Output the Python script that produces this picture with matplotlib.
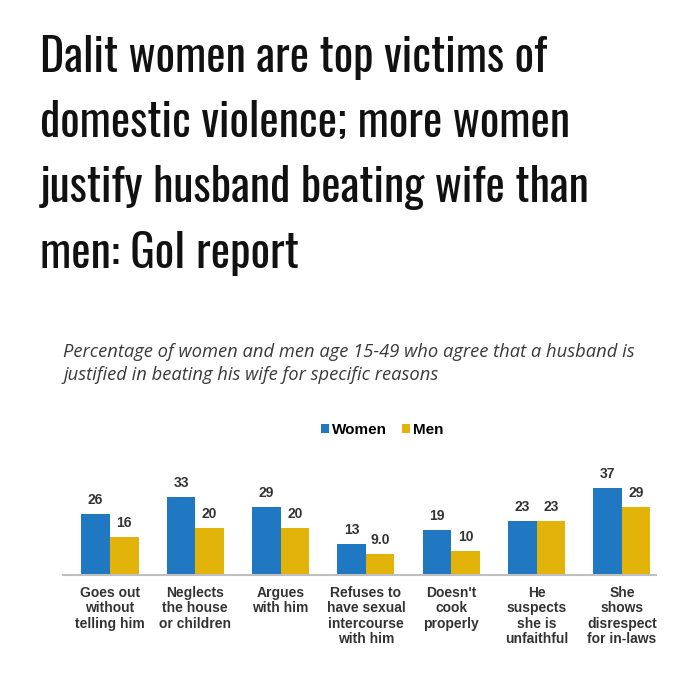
import matplotlib
matplotlib.use('Agg')
import matplotlib.pyplot as plt
import numpy as np

# data
categories = ['Goes out\nwithout\ntelling him', 'Neglects\nthe house\nor children', 'Argues\nwith him',
              'Refuses to\nhave sexual\nintercourse\nwith him', "Doesn't\ncook\nproperly",
              'He\nsuspects\nshe is\nunfaithful', 'She\nshows\ndisrespect\nfor in-laws']
women = [26, 33, 29, 13, 19, 23, 37]
men = [16, 20, 20, 9.0, 10, 23, 29]
women_labels = ['26', '33', '29', '13', '19', '23', '37']
men_labels = ['16', '20', '20', '9.0', '10', '23', '29']

title_lines = ['Dalit women are top victims of',
               'domestic violence; more women',
               'justify husband beating wife than',
               'men: GoI report']
subtitle_lines = ['Percentage of women and men age 15-49 who agree that a husband is',
                  'justified in beating his wife for specific reasons']

BLUE = '#1f78c1'
GOLD = '#e2b409'
TITLE_FONT = ['Oswald', 'Liberation Sans Narrow', 'DejaVu Sans']
SUB_FONT = ['Open Sans', 'DejaVu Sans']
BODY_FONT = ['Liberation Sans', 'DejaVu Sans']

W, H = 680, 680
fig = plt.figure(figsize=(W / 100, H / 100), dpi=100)
fig.patch.set_facecolor('white')

# title, one line at a time
title_base = [72, 137, 202, 268]
for line, y in zip(title_lines, title_base):
    fig.text(40 / W, 1 - y / H, line, fontsize=33, family=TITLE_FONT,
             color='#111111', va='baseline', ha='left')

for line, y in zip(subtitle_lines, [357, 380]):
    fig.text(63 / W, 1 - y / H, line, fontsize=13.2, style='italic', family=SUB_FONT,
             color='#3a3a3a', va='baseline', ha='left')

# chart
ax = fig.add_axes([63 / W, 1 - 575 / H, 593 / W, 94.4 / H])
x = np.arange(len(categories))
w = 0.335
bw = ax.bar(x - w / 2, women, w, color=BLUE, label='Women')
bm = ax.bar(x + w / 2, men, w, color=GOLD, label='Men')
ax.set_xlim(-0.55, 6.4)
ax.set_ylim(0, 40)

for bars, labels in [(bw, women_labels), (bm, men_labels)]:
    for rect, lab in zip(bars, labels):
        ax.annotate(lab, (rect.get_x() + rect.get_width() / 2, rect.get_height()), xytext=(0, 5),
                    textcoords='offset points', ha='center', va='bottom', fontsize=10,
                    fontweight='bold', color='#333333', family=BODY_FONT)

for s in ['top', 'right', 'left']:
    ax.spines[s].set_visible(False)
ax.spines['bottom'].set_color('#bfbfbf')
ax.spines['bottom'].set_linewidth(1.5)
ax.set_yticks([])
ax.set_xticks(x)
ax.set_xticklabels(categories, fontsize=10, fontweight='bold', color='#333333',
                   family=BODY_FONT, linespacing=1.12, va='top')
ax.tick_params(axis='x', length=0, pad=8)

fig.legend(handles=[bw, bm], labels=['Women', 'Men'], loc='center', ncol=2,
           bbox_to_anchor=(382 / W, 1 - 430 / H), frameon=False, handlelength=0.5,
           handleheight=0.5, handletextpad=0.2, columnspacing=1.0,
           prop={'family': BODY_FONT, 'size': 11, 'weight': 'bold'})

fig.savefig('out.png', dpi=100, facecolor='white')
